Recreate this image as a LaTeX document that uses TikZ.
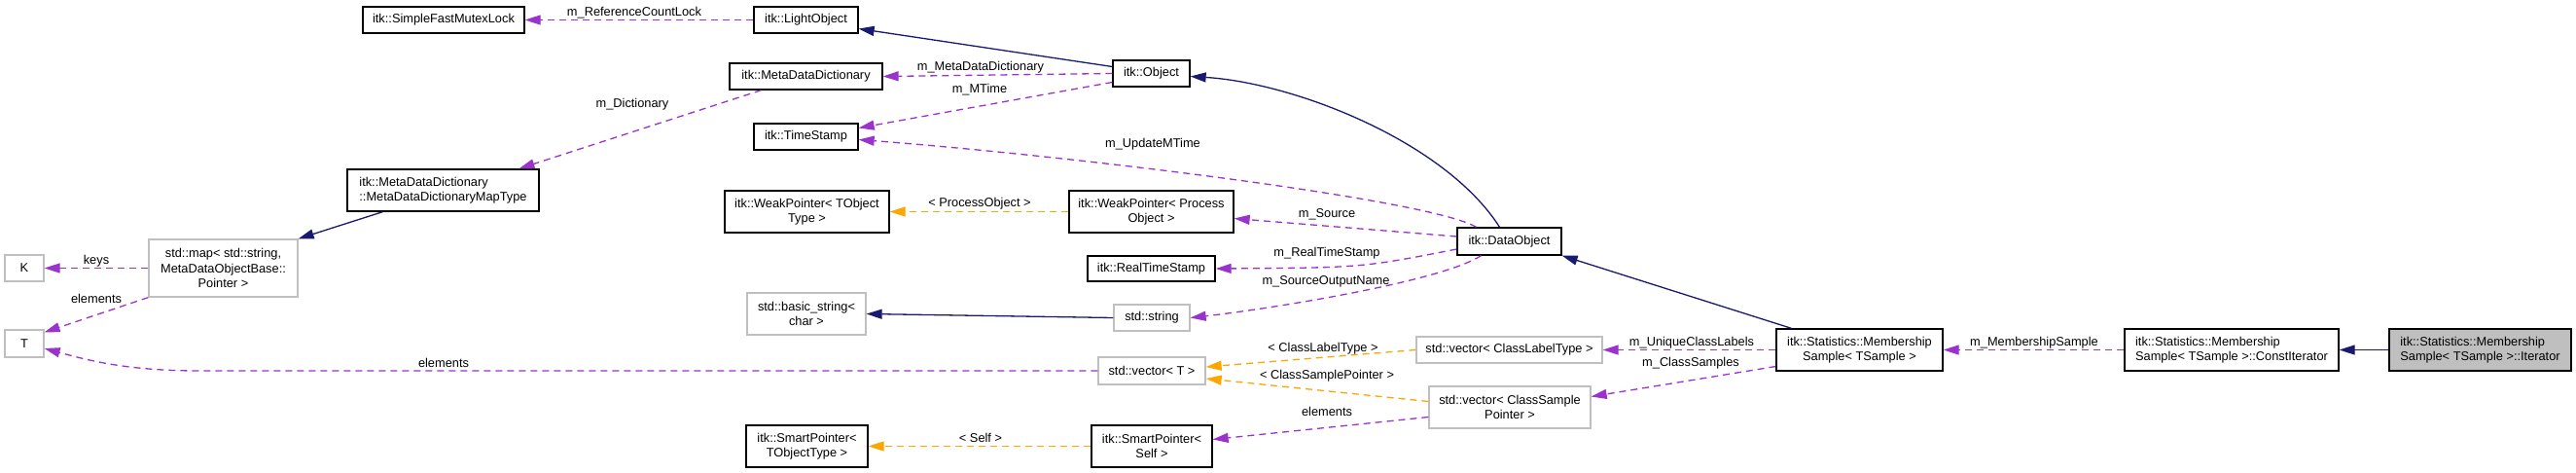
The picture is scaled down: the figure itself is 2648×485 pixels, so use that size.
\documentclass[tikz,border=0pt]{standalone}
\usepackage{fontspec}
\setmainfont{Liberation Sans}
\usetikzlibrary{arrows.meta,calc}
\definecolor{inhblue}{HTML}{191970}
\definecolor{usepurple}{HTML}{9A32CD}
\definecolor{tplorange}{HTML}{FFA500}
\definecolor{extgray}{HTML}{BFBFBF}

\begin{document}
\begin{tikzpicture}[x=1pt, y=-1pt,
  cls/.style={draw=black, fill=white, line width=1.3pt, inner sep=0pt, align=center,
    font=\fontsize{12.8}{15.5}\selectfont},
  ext/.style={cls, draw=extgray},
  cur/.style={cls, fill=extgray},
  sz/.style 2 args={minimum width=#1pt, minimum height=#2pt},
  inh/.style={draw=inhblue, line width=1.3pt, -{Triangle[length=16pt,width=10pt]}},
  use/.style={draw=usepurple, line width=1.3pt, dash pattern=on 7pt off 5pt,
    -{Triangle[length=16pt,width=10pt]}},
  tpl/.style={use, draw=tplorange},
  lbl/.style={font=\fontsize{12.8}{15.5}\selectfont, inner sep=0pt}]
\useasboundingbox (0,0) rectangle (2648,485);

% classes
\node[cls, sz={166}{27}] (sfml) at (456,20.5) {itk::SimpleFastMutexLock};
\node[cls, sz={107}{27}] (light) at (828.5,20.5) {itk::LightObject};
\node[cls, sz={157}{27}] (mdd) at (828.5,78.5) {itk::MetaDataDictionary};
\node[cls, sz={79}{27}] (obj) at (1183.5,75.5) {itk::Object};
\node[cls, sz={107}{27}] (ts) at (828.5,140.5) {itk::TimeStamp};
\node[cls, sz={197}{43}, align=left] (maptype) at (455.5,195.5) {itk::MetaDataDictionary\\::MetaDataDictionaryMapType};
\node[cls, sz={169}{43}] (wpT) at (829.5,217.5) {itk::WeakPointer< TObject\\Type >};
\node[cls, sz={169}{43}] (wpP) at (1183.5,217.5) {itk::WeakPointer< Process\\Object >};
\node[cls, sz={107}{28}] (dobj) at (1551.5,248) {itk::DataObject};
\node[cls, sz={131}{26}] (rts) at (1183.5,276) {itk::RealTimeStamp};
\node[ext, sz={153}{59}] (map) at (229.5,275.5) {std::map< std::string,\\ MetaDataObjectBase::\\Pointer >};
\node[ext, sz={40}{27}] (K) at (25,275.5) {K};
\node[ext, sz={40}{28}] (T) at (25,353) {T};
\node[ext, sz={122}{43}] (bstr) at (829,322.5) {std::basic\_string<\\ char >};
\node[ext, sz={78}{27}] (str) at (1184,326.5) {std::string};
\node[ext, sz={110}{28}] (vecT) at (1184,381) {std::vector< T >};
\node[ext, sz={191}{27}] (vecCL) at (1551.5,359.5) {std::vector< ClassLabelType >};
\node[ext, sz={166}{43}] (vecCS) at (1552,418.5) {std::vector< ClassSample\\Pointer >};
\node[cls, sz={171}{43}] (ms) at (1911.5,359.5) {itk::Statistics::Membership\\Sample< TSample >};
\node[cls, sz={220}{43}, align=left] (constit) at (2294,359.5) {itk::Statistics::Membership\\Sample< TSample >::ConstIterator};
\node[cur, sz={187}{43}, align=left] (iter) at (2549.5,359.5) {itk::Statistics::Membership\\Sample< TSample >::Iterator};
\node[cls, sz={125}{43}] (spT) at (829.5,458.5) {itk::SmartPointer<\\ TObjectType >};
\node[cls, sz={124}{43}] (spS) at (1184,458.5) {itk::SmartPointer<\\ Self >};

% inheritance
\draw[inh] ($(obj.west)+(0,-7)$) -- ($(light.east)+(0,9)$);
\draw[inh] ($(dobj.north)+(-10,0)$) .. controls (1485,145) and (1330,85) .. ($(obj.east)+(0,3)$);
\draw[inh] ($(ms.north)+(-70,0)$) -- (dobj.south east);
\draw[inh] (iter.west) -- (constit.east);
\draw[inh] ($(maptype.south)+(-62,0)$) -- (map.north east);
\draw[inh] (str.west) -- (bstr.east);

% members
\draw[use] (light.west) -- (sfml.east);
\draw[use] (obj.west) -- (mdd.east);
\draw[use] ($(obj.west)+(0,9)$) -- ($(ts.east)+(0,-9)$);
\draw[use] ($(mdd.south)+(-46,0)$) -- ($(maptype.north)+(78,0)$);
\draw[use] ($(dobj.north)+(-34,0)$) .. controls (1470,205) and (1100,160) .. ($(ts.east)+(0,3)$);
\draw[use] ($(dobj.west)+(0,-5)$) -- ($(wpP.east)+(0,7)$);
\draw[use] ($(dobj.west)+(0,8)$) .. controls (1400,275) .. (rts.east);
\draw[use] ($(dobj.south)+(-29,0)$) .. controls (1480,290) and (1300,318) .. (str.east);
\draw[use] (map.west) -- (K.east);
\draw[use] (map.south west) -- ($(T.north east)+(0,3)$);
\draw[use] (vecT.west) -- (205,381) .. controls (130,381) and (90,370) .. ($(T.east)+(0,5)$);
\draw[use] (ms.west) -- (vecCL.east);
\draw[use] ($(ms.west)+(0,17)$) -- ($(vecCS.east)+(0,-11)$);
\draw[use] (constit.west) -- (ms.east);
\draw[use] ($(vecCS.west)+(0,10)$) -- ($(spS.east)+(0,-7)$);

% template instances
\draw[tpl] (wpP.west) -- (wpT.east);
\draw[tpl] (spS.west) -- (spT.east);
\draw[tpl] (vecCL.west) -- ($(vecT.east)+(0,-4)$);
\draw[tpl] ($(vecCS.west)+(0,-6)$) -- ($(vecT.east)+(0,8)$);

% labels
\node[lbl] (lRefLock) at (652,13) {m\_ReferenceCountLock};
\node[lbl] (lMetaDict) at (1008,69) {m\_MetaDataDictionary};
\node[lbl] (lMTime) at (1007,92) {m\_MTime};
\node[lbl] (lDict) at (650,107) {m\_Dictionary};
\node[lbl] (lUpdMTime) at (1185,148) {m\_UpdateMTime};
\node[lbl] (lProcObj) at (1007,209) {< ProcessObject >};
\node[lbl] (lSource) at (1364,220) {m\_Source};
\node[lbl] (lRealTS) at (1364,260) {m\_RealTimeStamp};
\node[lbl] (lSrcOut) at (1363,289) {m\_SourceOutputName};
\node[lbl] (lKeys) at (99,268) {keys};
\node[lbl] (lElemMap) at (99,307) {elements};
\node[lbl] (lElemVec) at (456,373) {elements};
\node[lbl] (lClsLbl) at (1360,358) {< ClassLabelType >};
\node[lbl] (lClsSmp) at (1364,386) {< ClassSamplePointer >};
\node[lbl] (lElemCS) at (1364,423) {elements};
\node[lbl] (lSelf) at (1008,450) {< Self >};
\node[lbl] (lUnique) at (1739,352) {m\_UniqueClassLabels};
\node[lbl] (lClsSamples) at (1738,373) {m\_ClassSamples};
\node[lbl] (lMemb) at (2091,352) {m\_MembershipSample};
\end{tikzpicture}
\end{document}
